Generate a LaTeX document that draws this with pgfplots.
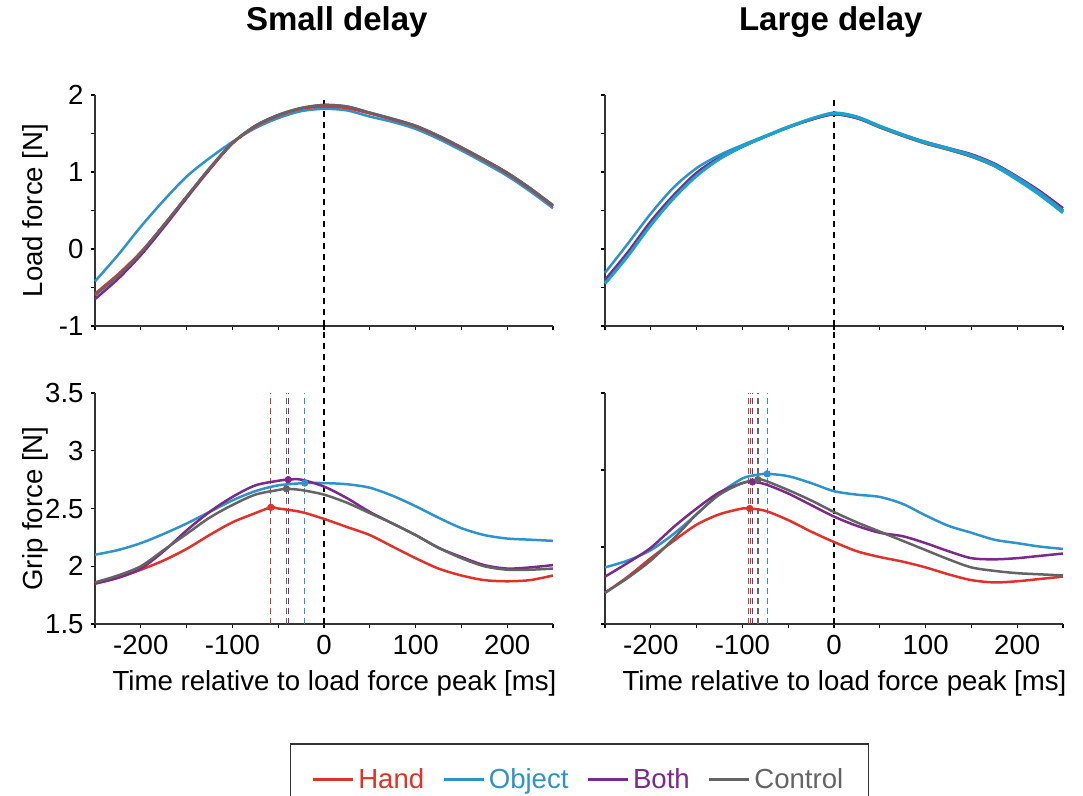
\documentclass[border=0pt]{standalone}
\usepackage{fontspec}
\setmainfont{Liberation Sans}
\usepackage{pgfplots}
\pgfplotsset{compat=1.18}

\definecolor{chand}{RGB}{224,49,43}
\definecolor{cobj}{RGB}{46,147,204}
\definecolor{cboth}{RGB}{123,42,138}
\definecolor{cctrl}{RGB}{100,100,100}
\definecolor{ccyan}{RGB}{26,163,204}

\pgfplotsset{
 base/.style={
  scale only axis, width=229pt, height=115.5pt,
  xmin=-250, xmax=250,
  axis x line*=bottom, axis y line*=left,
  axis line style={black!80, line width=0.6pt, -},
  tick align=outside, major tick length=2.2pt, minor tick length=2.2pt,
  tick style={black, line width=0.6pt},
  xtick={-200,-100,0,100,200},
  minor xtick={-250,-150,-50,50,150,250},
  ticklabel style={font=\fontsize{13.8}{16}\selectfont},
  label style={font=\fontsize{13.8}{16}\selectfont},
  every axis title shift=0pt,
  title style={font=\bfseries\fontsize{16.5}{19}\selectfont, anchor=center},
  xlabel style={at={(axis description cs:0.523,-0.255)}, anchor=center},
  ylabel style={at={(axis description cs:-0.131,0.5)}, anchor=center},
  clip=false,
 },
 curve/.style={line width=1.25pt, smooth},
 zeroline/.style={black, line width=0.7pt, dash pattern=on 3pt off 2.5pt, forget plot},
 peakline/.style={line width=0.6pt, dash pattern=on 3pt off 2pt, forget plot},
 peakmark/.style={only marks, mark=*, mark size=1.6pt, forget plot},
}

\begin{document}
\begin{tikzpicture}
\path[use as bounding box] (0,0) rectangle (541.5pt,-398pt);

% ---------------- Top left: load force, small delay
\begin{axis}[base, at={(47.5pt,-47.5pt)}, anchor=north west,
  ymin=-1, ymax=2, ytick={-1,0,1,2}, yticklabels={-1,0,1,2},
  minor ytick={-0.5,0.5,1.5}, xticklabels={},
  ylabel={Load force [N]},
  title={Small delay}, title style={at={(axis description cs:0.528,1.316)}}]
\addplot[zeroline] coordinates {(0,-1) (0,2)};
\addplot[curve, cobj] coordinates {(-250,-0.42) (-225,-0.08) (-200,0.29) (-175,0.63) (-150,0.94) (-125,1.18) (-100,1.39) (-75,1.57) (-50,1.70) (-25,1.79) (0,1.82) (25,1.80) (50,1.72) (75,1.65) (100,1.56) (125,1.43) (150,1.28) (175,1.12) (200,0.95) (225,0.75) (250,0.53)};
\addplot[curve, cboth] coordinates {(-250,-0.65) (-225,-0.39) (-200,-0.08) (-175,0.28) (-150,0.66) (-125,1.03) (-100,1.37) (-75,1.60) (-50,1.74) (-25,1.83) (0,1.87) (25,1.85) (50,1.77) (75,1.69) (100,1.60) (125,1.47) (150,1.32) (175,1.16) (200,0.99) (225,0.79) (250,0.56)};
\addplot[curve, chand] coordinates {(-250,-0.58) (-225,-0.33) (-200,-0.04) (-175,0.31) (-150,0.68) (-125,1.04) (-100,1.37) (-75,1.59) (-50,1.73) (-25,1.82) (0,1.85) (25,1.83) (50,1.76) (75,1.68) (100,1.59) (125,1.46) (150,1.31) (175,1.15) (200,0.98) (225,0.78) (250,0.56)};
\addplot[curve, cctrl] coordinates {(-250,-0.60) (-225,-0.35) (-200,-0.05) (-175,0.31) (-150,0.68) (-125,1.05) (-100,1.38) (-75,1.60) (-50,1.74) (-25,1.83) (0,1.87) (25,1.85) (50,1.77) (75,1.69) (100,1.60) (125,1.47) (150,1.32) (175,1.16) (200,0.99) (225,0.79) (250,0.57)};
\end{axis}

% ---------------- Top right: load force, large delay
\begin{axis}[base, at={(302.5pt,-47.5pt)}, anchor=north west,
  ymin=-1, ymax=2, ytick={-1,0,1,2}, yticklabels={},
  minor ytick={-0.5,0.5,1.5}, xticklabels={},
  title={Large delay}, title style={at={(axis description cs:0.493,1.316)}}]
\addplot[zeroline] coordinates {(0,-1) (0,2)};
\addplot[curve, chand] coordinates {(-250,-0.42) (-225,-0.06) (-200,0.34) (-175,0.68) (-150,0.97) (-125,1.18) (-100,1.33) (-75,1.46) (-50,1.58) (-25,1.68) (0,1.75) (25,1.70) (50,1.58) (75,1.47) (100,1.37) (125,1.29) (150,1.20) (175,1.08) (200,0.91) (225,0.72) (250,0.50)};
\addplot[curve, cctrl] coordinates {(-250,-0.43) (-225,-0.07) (-200,0.33) (-175,0.67) (-150,0.96) (-125,1.17) (-100,1.33) (-75,1.46) (-50,1.58) (-25,1.68) (0,1.75) (25,1.70) (50,1.58) (75,1.47) (100,1.37) (125,1.29) (150,1.20) (175,1.08) (200,0.91) (225,0.72) (250,0.49)};
\addplot[curve, cboth] coordinates {(-250,-0.40) (-225,-0.04) (-200,0.36) (-175,0.70) (-150,0.99) (-125,1.19) (-100,1.34) (-75,1.46) (-50,1.58) (-25,1.68) (0,1.75) (25,1.70) (50,1.59) (75,1.48) (100,1.39) (125,1.31) (150,1.23) (175,1.11) (200,0.94) (225,0.75) (250,0.53)};
\addplot[curve, cobj] coordinates {(-250,-0.31) (-225,0.07) (-200,0.46) (-175,0.80) (-150,1.05) (-125,1.22) (-100,1.35) (-75,1.47) (-50,1.59) (-25,1.69) (0,1.77) (25,1.72) (50,1.60) (75,1.49) (100,1.39) (125,1.31) (150,1.22) (175,1.10) (200,0.93) (225,0.73) (250,0.50)};
\addplot[curve, ccyan, line width=1.5pt] coordinates {(-250,-0.45) (-225,-0.09) (-200,0.31) (-175,0.66) (-150,0.95) (-125,1.17) (-100,1.33) (-75,1.46) (-50,1.58) (-25,1.69) (0,1.76) (25,1.71) (50,1.59) (75,1.48) (100,1.38) (125,1.30) (150,1.21) (175,1.08) (200,0.90) (225,0.70) (250,0.47)};
\end{axis}

% ---------------- Bottom left: grip force, small delay
\begin{axis}[base, at={(47.5pt,-196.5pt)}, anchor=north west,
  ymin=1.5, ymax=3.5, ytick={1.5,2,2.5,3,3.5}, yticklabels={1.5,2,2.5,3,3.5},
  xticklabels={-200,-100,0,100,200},
  ylabel={Grip force [N]},
  xlabel={Time relative to load force peak [ms]},
  legend style={at={(axis description cs:1.058,-0.517)}, anchor=north,
    legend columns=4, draw=black!80, line width=0.6pt,
    font=\fontsize{13.8}{16}\selectfont, inner xsep=10.5pt, inner ysep=10pt,
    /tikz/every even column/.append style={column sep=7pt},
    /tikz/every odd column/.append style={column sep=0pt}},
  legend image code/.code={\draw[#1, line width=1.25pt] (0pt,0pt) -- (20pt,0pt);}]
\addplot[zeroline] coordinates {(0,1.5) (0,4.08)};
\addplot[peakline, chand] coordinates {(-58,1.5) (-58,3.5)};
\addplot[peakline, cctrl] coordinates {(-41,1.5) (-41,3.5)};
\addplot[peakline, cboth] coordinates {(-39,1.5) (-39,3.5)};
\addplot[peakline, cobj] coordinates {(-21,1.5) (-21,3.5)};
\addplot[curve, chand] coordinates {(-250,1.85) (-225,1.90) (-200,1.97) (-175,2.05) (-150,2.15) (-125,2.27) (-100,2.38) (-75,2.46) (-58,2.51) (-50,2.50) (-25,2.47) (0,2.41) (25,2.34) (50,2.27) (75,2.17) (100,2.07) (125,1.98) (150,1.92) (175,1.88) (200,1.87) (225,1.88) (250,1.92)};
\addlegendentry{\textcolor{chand}{Hand}}
\addplot[curve, cobj] coordinates {(-250,2.10) (-225,2.14) (-200,2.20) (-175,2.28) (-150,2.37) (-125,2.47) (-100,2.57) (-75,2.65) (-50,2.70) (-21,2.72) (0,2.72) (25,2.71) (50,2.68) (75,2.61) (100,2.52) (125,2.42) (150,2.33) (175,2.27) (200,2.24) (225,2.23) (250,2.22)};
\addlegendentry{\textcolor{cobj}{Object}}
\addplot[curve, cboth] coordinates {(-250,1.85) (-225,1.90) (-200,1.98) (-175,2.13) (-150,2.31) (-125,2.47) (-100,2.60) (-75,2.70) (-50,2.74) (-39,2.75) (-25,2.75) (0,2.69) (25,2.59) (50,2.47) (75,2.37) (100,2.27) (125,2.16) (150,2.08) (175,2.01) (200,1.98) (225,1.99) (250,2.01)};
\addlegendentry{\textcolor{cboth}{Both}}
\addplot[curve, cctrl] coordinates {(-250,1.86) (-225,1.92) (-200,2.00) (-175,2.14) (-150,2.28) (-125,2.42) (-100,2.53) (-75,2.62) (-50,2.66) (-41,2.67) (-25,2.66) (0,2.62) (25,2.55) (50,2.46) (75,2.37) (100,2.27) (125,2.16) (150,2.07) (175,2.00) (200,1.97) (225,1.97) (250,1.98)};
\addlegendentry{\textcolor{cctrl}{Control}}
\addplot[peakmark, chand] coordinates {(-58,2.51)};
\addplot[peakmark, cctrl] coordinates {(-41,2.67)};
\addplot[peakmark, cboth] coordinates {(-39,2.75)};
\addplot[peakmark, cobj] coordinates {(-21,2.72)};
\end{axis}

% ---------------- Bottom right: grip force, large delay
\begin{axis}[base, at={(302.5pt,-196.5pt)}, anchor=north west,
  ymin=1.5, ymax=3.5, ytick={1.5,2.1667,2.8333,3.5}, yticklabels={},
  xticklabels={-200,-100,0,100,200},
  xlabel={Time relative to load force peak [ms]}]
\addplot[zeroline] coordinates {(0,1.5) (0,4.08)};
\addplot[peakline, chand] coordinates {(-93,1.5) (-93,3.5)};
\addplot[peakline, chand] coordinates {(-91.5,1.5) (-91.5,3.5)};
\addplot[peakline, cboth] coordinates {(-89,1.5) (-89,3.5)};
\addplot[peakline, cctrl] coordinates {(-83,1.5) (-83,3.5)};
\addplot[peakline, cobj] coordinates {(-73,1.5) (-73,3.5)};
\addplot[curve, chand] coordinates {(-250,1.77) (-225,1.91) (-200,2.07) (-175,2.22) (-150,2.36) (-125,2.45) (-100,2.50) (-92,2.50) (-75,2.48) (-50,2.40) (-25,2.30) (0,2.21) (25,2.13) (50,2.08) (75,2.04) (100,1.99) (125,1.93) (150,1.88) (175,1.86) (200,1.87) (225,1.89) (250,1.91)};
\addplot[curve, cobj] coordinates {(-250,1.99) (-225,2.05) (-200,2.14) (-175,2.28) (-150,2.45) (-125,2.63) (-100,2.76) (-85,2.79) (-73,2.80) (-50,2.78) (-25,2.72) (0,2.65) (25,2.62) (50,2.60) (75,2.54) (100,2.44) (125,2.35) (150,2.29) (175,2.23) (200,2.20) (225,2.17) (250,2.15)};
\addplot[curve, cboth] coordinates {(-250,1.91) (-225,2.03) (-200,2.16) (-175,2.34) (-150,2.50) (-125,2.64) (-100,2.72) (-89,2.73) (-75,2.71) (-50,2.63) (-25,2.53) (0,2.43) (25,2.35) (50,2.29) (75,2.26) (100,2.20) (125,2.13) (150,2.07) (175,2.06) (200,2.07) (225,2.09) (250,2.11)};
\addplot[curve, cctrl] coordinates {(-250,1.77) (-225,1.90) (-200,2.05) (-175,2.24) (-150,2.45) (-125,2.62) (-100,2.72) (-83,2.75) (-75,2.74) (-50,2.66) (-25,2.57) (0,2.47) (25,2.38) (50,2.30) (75,2.22) (100,2.14) (125,2.06) (150,1.99) (175,1.96) (200,1.94) (225,1.93) (250,1.92)};
\addplot[peakmark, chand] coordinates {(-92,2.50)};
\addplot[peakmark, cboth] coordinates {(-89,2.73)};
\addplot[peakmark, cctrl] coordinates {(-83,2.75)};
\addplot[peakmark, cobj] coordinates {(-73,2.80)};
\end{axis}
\end{tikzpicture}
\end{document}
